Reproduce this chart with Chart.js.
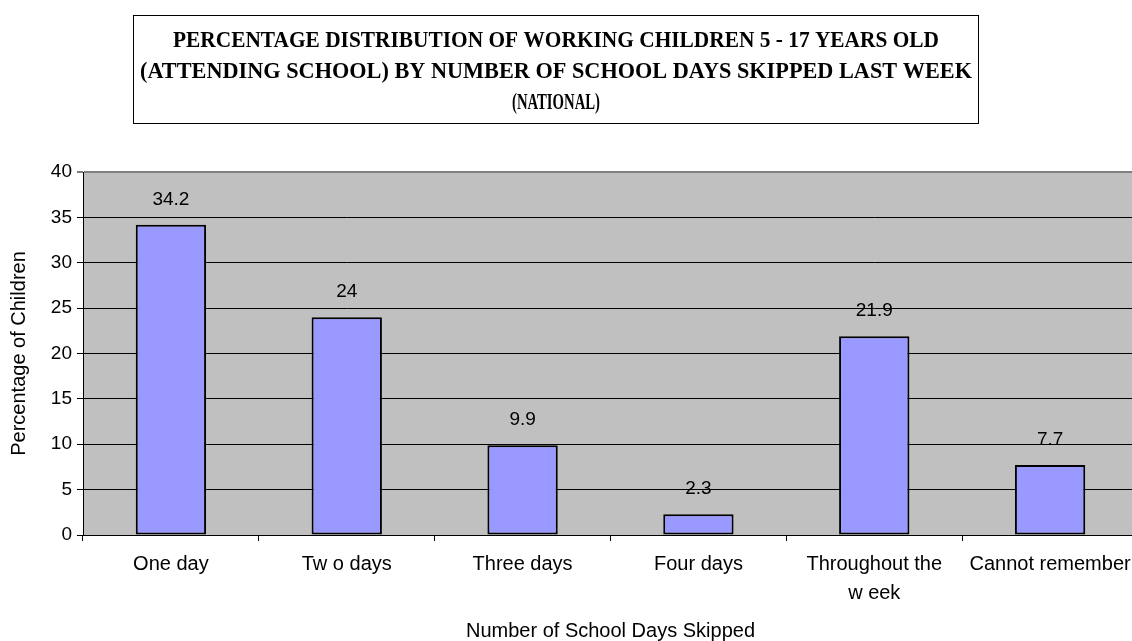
<!DOCTYPE html>
<html>
<head>
<meta charset="utf-8">
<script src="https://cdn.jsdelivr.net/npm/chart.js@4.4.0/dist/chart.umd.min.js"></script>
<style>
  html, body { margin: 0; padding: 0; overflow: hidden; background: #fff; }
  canvas { display: block; }
</style>
</head>
<body>
<canvas id="chart" width="1140" height="641"></canvas>
<script>
const categories = ['One day', 'Tw o days', 'Three days', 'Four days', ['Throughout the', 'w eek'], 'Cannot remember'];
const percentages = [34.2, 24, 9.9, 2.3, 21.9, 7.7];
const yTicks = [0, 5, 10, 15, 20, 25, 30, 35, 40];
const titleLines = [
    'PERCENTAGE DISTRIBUTION OF WORKING CHILDREN 5 - 17 YEARS OLD',
    '(ATTENDING SCHOOL) BY NUMBER OF SCHOOL DAYS SKIPPED LAST WEEK',
    '(NATIONAL)'
];

Chart.defaults.font.family = "'Liberation Sans', Arial, sans-serif";
Chart.defaults.color = '#000';

// grey plot background like the old spreadsheet chart
const plotBackground = {
    id: 'plotBackground',
    beforeDraw(chart) {
        const { ctx, chartArea } = chart;
        ctx.save();
        ctx.fillStyle = '#c0c0c0';
        ctx.fillRect(chartArea.left, chartArea.top, chartArea.right - chartArea.left, chartArea.bottom - chartArea.top);
        ctx.restore();
    }
};

// boxed title on top, squeezed to the widths of the original
const boxedTitle = {
    id: 'boxedTitle',
    afterDraw(chart) {
        const ctx = chart.ctx;
        ctx.save();
        ctx.strokeStyle = '#000';
        ctx.lineWidth = 1;
        ctx.strokeRect(133.5, 15.5, 845, 108);
        ctx.fillStyle = '#000';
        ctx.font = "bold 24px 'Liberation Serif', 'Times New Roman', serif";
        ctx.textAlign = 'center';
        ctx.textBaseline = 'middle';
        const widths = [766, 832, 88];
        const ys = [41, 72, 103];
        titleLines.forEach((line, i) => {
            ctx.fillText(line, 556, ys[i], widths[i]);
        });
        ctx.restore();
    }
};

const valueLabels = {
    id: 'valueLabels',
    afterDatasetsDraw(chart) {
        const ctx = chart.ctx;
        const meta = chart.getDatasetMeta(0);
        ctx.save();
        ctx.fillStyle = '#000';
        ctx.font = "19px 'Liberation Sans', Arial, sans-serif";
        ctx.textAlign = 'center';
        ctx.textBaseline = 'middle';
        meta.data.forEach((bar, i) => {
            ctx.fillText(String(percentages[i]), bar.x, bar.y - 25);
        });
        ctx.restore();
    }
};

new Chart(document.getElementById('chart'), {
    type: 'bar',
    data: {
        labels: categories,
        datasets: [{
            data: percentages,
            backgroundColor: '#9999ff',
            borderColor: '#000',
            borderWidth: 2,
            borderSkipped: false,
            barPercentage: 0.4,
            categoryPercentage: 1.0
        }]
    },
    options: {
        responsive: false,
        animation: false,
        layout: { padding: { top: 172, left: 0, right: 2, bottom: 0 } },
        plugins: {
            legend: { display: false },
            tooltip: { enabled: false }
        },
        scales: {
            x: {
                offset: true,
                grid: {
                    offset: true,
                    drawOnChartArea: false,
                    drawTicks: true,
                    tickLength: 6,
                    color: '#000'
                },
                border: { display: true, color: '#000', width: 1 },
                ticks: {
                    padding: 9,
                    maxRotation: 0,
                    autoSkip: false,
                    font: { size: 20, lineHeight: 1.45 }
                },
                title: {
                    display: true,
                    text: 'Number of School Days Skipped',
                    font: { size: 20, lineHeight: 1.0 },
                    padding: { top: 0, bottom: 0 }
                },
                afterFit(scale) { scale.height = 106; }
            },
            y: {
                min: 0,
                max: 40,
                afterBuildTicks(scale) {
                    scale.ticks = yTicks.map(v => ({ value: v }));
                },
                grid: {
                    tickLength: 6,
                    color: ctx => (ctx.tick && ctx.tick.value === 40 ? '#808080' : '#000'),
                    lineWidth: ctx => (ctx.tick && ctx.tick.value === 40 ? 2 : 1)
                },
                border: { display: true, color: '#000', width: 1 },
                ticks: {
                    padding: 5,
                    font: { size: 19 }
                },
                title: {
                    display: true,
                    text: 'Percentage of Children',
                    font: { size: 20, lineHeight: 1.2 },
                    padding: { top: 7, bottom: 0 }
                },
                afterFit(scale) { scale.width = 83; }
            }
        }
    },
    plugins: [plotBackground, valueLabels, boxedTitle]
});
</script>
</body>
</html>
